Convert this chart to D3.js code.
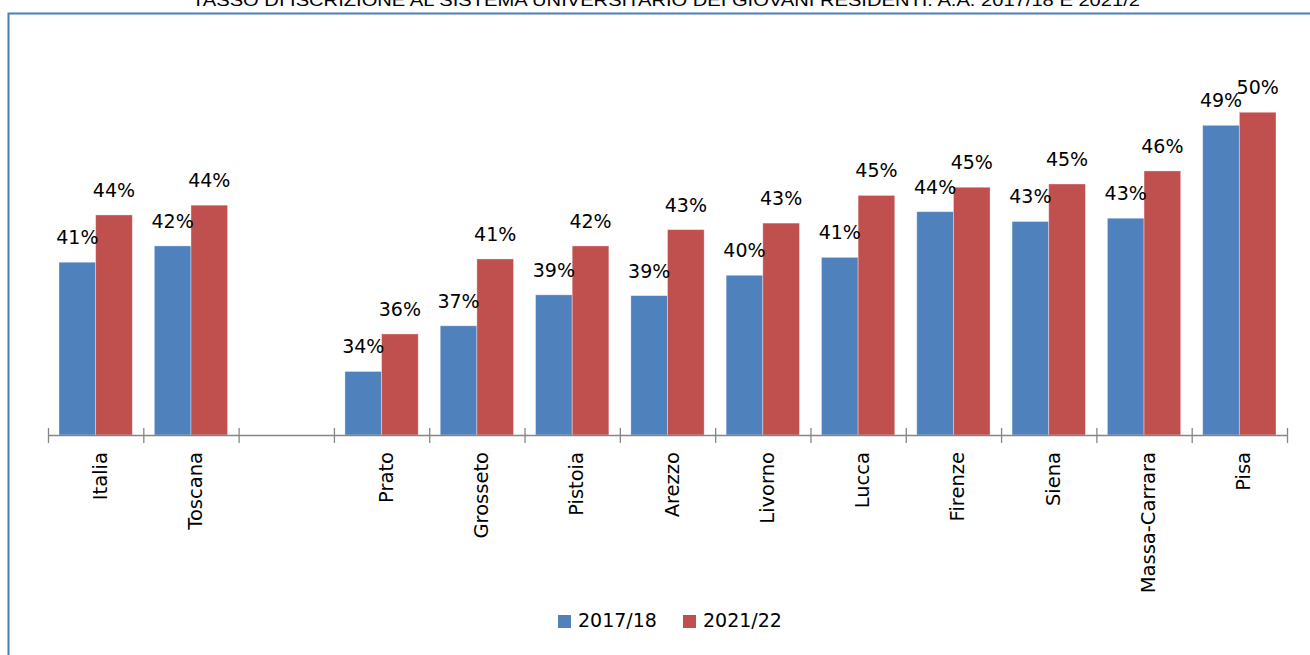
<!DOCTYPE html>
<html>
<head>
<meta charset="utf-8">
<script src="https://cdn.jsdelivr.net/npm/d3@7"></script>
<style>
  html, body { margin: 0; padding: 0; background: #fff; }
  svg { display: block; }
</style>
</head>
<body>
<svg id="chart" width="1310" height="655"></svg>
<script>
// Categories (an empty slot separates the national/regional totals from the provinces)
const categories = ["Italia", "Toscana", "", "Prato", "Grosseto", "Pistoia", "Arezzo",
  "Livorno", "Lucca", "Firenze", "Siena", "Massa-Carrara", "Pisa"];
const seriesNames = ["2017/18", "2021/22"];
const values2017 = [0.406, 0.416, null, 0.339, 0.367, 0.386, 0.3855, 0.398, 0.409, 0.437, 0.431, 0.433, 0.490];
const values2021 = [0.435, 0.441, null, 0.362, 0.408, 0.416, 0.426, 0.430, 0.447, 0.452, 0.454, 0.462, 0.498];
const colors = ["#4F81BD", "#C0504D"];
const titleText = "TASSO DI ISCRIZIONE AL SISTEMA UNIVERSITARIO DEI GIOVANI RESIDENTI. A.A. 2017/18 E 2021/2";

const svg = d3.select("#chart");
const W = 1310, H = 655;

// outer frame
svg.append("rect")
  .attr("x", 8.5).attr("y", 13.5)
  .attr("width", W + 20).attr("height", H + 20)
  .attr("fill", "none").attr("stroke", "#4A7EBB").attr("stroke-width", 2);

// title (partially above the visible area)
svg.append("text")
  .attr("x", 192).attr("y", 6)
  .attr("textLength", 948).attr("lengthAdjust", "spacingAndGlyphs")
  .style("font-family", "'Liberation Sans Narrow', 'Liberation Sans', sans-serif")
  .style("font-size", "17px").attr("fill", "#000")
  .text(titleText);

const plot = { left: 48, right: 1287, top: 27.5, bottom: 435 };

const x = d3.scaleBand()
  .domain(d3.range(categories.length))
  .range([plot.left, plot.right])
  .paddingInner(0.3 / 1.3)
  .paddingOuter(0.15 / 1.3);

const xs = d3.scaleBand()
  .domain(d3.range(seriesNames.length))
  .range([0, x.bandwidth()]);

const y = d3.scaleLinear()
  .domain([0.30, 0.55])
  .range([plot.bottom, plot.top]);

const fmt = d3.format(".0%");

const series = [values2017, values2021];
const rows = [];
categories.forEach((c, i) => {
  series.forEach((vals, s) => {
    if (vals[i] != null) rows.push({ i, s, v: vals[i] });
  });
});

// bars
svg.append("g").selectAll("rect").data(rows).join("rect")
  .attr("x", d => x(d.i) + xs(d.s))
  .attr("y", d => y(d.v))
  .attr("width", xs.bandwidth())
  .attr("height", d => y(0.30) - y(d.v))
  .attr("fill", d => colors[d.s])
  .attr("stroke", "rgba(255,255,255,0.45)")
  .attr("stroke-width", 0.8);

// data labels
svg.append("g").selectAll("text").data(rows).join("text")
  .attr("x", d => x(d.i) + xs(d.s) + xs.bandwidth() / 2)
  .attr("y", d => y(d.v) - 18)
  .attr("text-anchor", "middle")
  .style("font-family", "'DejaVu Sans', sans-serif")
  .style("font-size", "19px")
  .attr("fill", "#000")
  .text(d => fmt(d.v));

// category axis with cross ticks at slot boundaries
const axisG = svg.append("g");
axisG.append("line")
  .attr("x1", plot.left).attr("x2", plot.right)
  .attr("y1", plot.bottom + 0.5).attr("y2", plot.bottom + 0.5)
  .attr("stroke", "#868686").attr("stroke-width", 1.3);
const step = x.step();
axisG.selectAll("line.tick").data(d3.range(categories.length + 1)).join("line")
  .attr("class", "tick")
  .attr("x1", i => plot.left + i * step + 0.5)
  .attr("x2", i => plot.left + i * step + 0.5)
  .attr("y1", plot.bottom - 7).attr("y2", plot.bottom + 8)
  .attr("stroke", "#868686").attr("stroke-width", 1.3);

axisG.selectAll("text").data(categories).join("text")
  .attr("transform", (c, i) => `translate(${x(i) + x.bandwidth() / 2 + 11},${452}) rotate(-90)`)
  .attr("text-anchor", "end")
  .style("font-family", "'DejaVu Sans', sans-serif")
  .style("font-size", "19.5px")
  .attr("fill", "#000")
  .text(c => c);

// legend
const legend = svg.append("g");
const legendItems = [{ x: 558 }, { x: 683 }];
seriesNames.forEach((name, s) => {
  const g = legend.append("g").attr("transform", `translate(${legendItems[s].x},0)`);
  g.append("rect").attr("x", 0).attr("y", 615).attr("width", 13).attr("height", 13)
    .attr("fill", colors[s]);
  g.append("text").attr("x", 20).attr("y", 627)
    .style("font-family", "'DejaVu Sans', sans-serif")
    .style("font-size", "19px").attr("fill", "#000")
    .text(name);
});
</script>
</body>
</html>
